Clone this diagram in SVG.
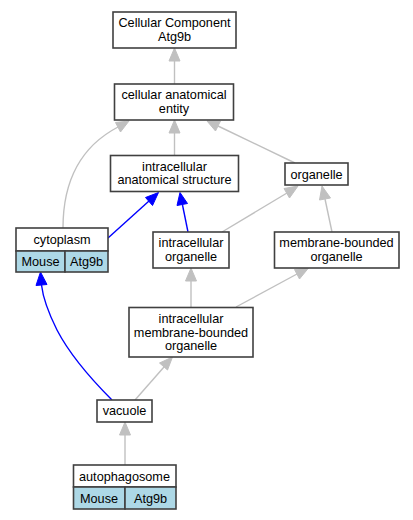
<svg xmlns="http://www.w3.org/2000/svg" width="413" height="520" viewBox="0 0 413 520">
<style>
text{font-family:"Liberation Sans",Arial,sans-serif;font-size:12.7px;fill:#000;text-anchor:middle}
.box{fill:#fff;stroke:#404040;stroke-width:1.6}
.cell{fill:#add8e6;stroke:#404040;stroke-width:1.6}
.g{fill:none;stroke:#c0c0c0;stroke-width:1.4}
.b{fill:none;stroke:#0000ff;stroke-width:1.4}
.ga{fill:#c0c0c0;stroke:#c0c0c0}
.ba{fill:#0000ff;stroke:#0000ff}
</style>
<rect width="413" height="520" fill="#fff"/>
<g id="connectors">
<path class="g" d="M174.5,84 L174.5,61"/>
<polygon class="ga" points="174.5,48 169,61 180,61"/>
<path class="g" d="M174.5,155 L174.5,133"/>
<polygon class="ga" points="174.5,120 169,133 180,133"/>
<path class="g" d="M295,163 L218,126"/>
<polygon class="ga" points="207,121 215.5,131 220.5,121"/>
<path class="g" d="M63,228 C63,185 78,148 118,127"/>
<polygon class="ga" points="129,121 115.5,122.5 120.5,132"/>
<path class="b" d="M188,232 L182.5,205"/>
<polygon class="ba" points="180,192.5 177,205.5 187.5,203.5"/>
<path class="b" d="M108,238 L149,201"/>
<polygon class="ba" points="158.5,192.5 145.5,197.5 152.5,205.5"/>
<path class="g" d="M222,232 L287,193"/>
<polygon class="ga" points="298,186 284,188.5 289.5,198"/>
<path class="g" d="M332,232 L325,199"/>
<polygon class="ga" points="322,186 319.5,200 330.5,198"/>
<path class="g" d="M191,307 L191,281"/>
<polygon class="ga" points="191,268 185.5,281 196.5,281"/>
<path class="g" d="M236,307 L297,274"/>
<polygon class="ga" points="308.5,268 294.5,269.5 299.5,279"/>
<path class="g" d="M135,400 L164,367"/>
<polygon class="ga" points="172.5,357 159.5,363 167.5,370"/>
<path class="b" d="M112,400 C92,380 70,355 57,330 C48,312 43,298 41.5,285"/>
<polygon class="ba" points="40.5,272 36,285.5 47,284.5"/>
<path class="g" d="M125,465 L125,435"/>
<polygon class="ga" points="125,422 119.5,435 130.5,435"/>
</g>
<g id="n_cc">
<rect class="box" x="113" y="12" width="123" height="36"/>
<text x="174.5" y="27">Cellular Component</text>
<text x="174.5" y="40.5">Atg9b</text>
</g>
<g id="n_cae">
<rect class="box" x="114.5" y="84" width="119" height="36"/>
<text x="174" y="99">cellular anatomical</text>
<text x="174" y="112.5">entity</text>
</g>
<g id="n_ias">
<rect class="box" x="110.5" y="155.5" width="128" height="36"/>
<text x="174.5" y="170.5">intracellular</text>
<text x="174.5" y="184">anatomical structure</text>
</g>
<g id="n_organelle">
<rect class="box" x="285" y="163" width="63" height="22"/>
<text x="316.5" y="178.5">organelle</text>
</g>
<g id="n_cytoplasm">
<rect class="box" x="16" y="228" width="92" height="23"/>
<rect class="cell" x="16" y="251" width="49" height="21"/>
<rect class="cell" x="65" y="251" width="43" height="21"/>
<text x="62" y="244">cytoplasm</text>
<text x="40.5" y="266">Mouse</text>
<text x="86.5" y="266">Atg9b</text>
</g>
<g id="n_io">
<rect class="box" x="153" y="232" width="76" height="36"/>
<text x="191" y="247">intracellular</text>
<text x="191" y="261">organelle</text>
</g>
<g id="n_mbo">
<rect class="box" x="274.5" y="232" width="124.5" height="36"/>
<text x="336.5" y="247">membrane-bounded</text>
<text x="336.5" y="261">organelle</text>
</g>
<g id="n_imbo">
<rect class="box" x="129" y="307.5" width="124" height="49.5"/>
<text x="191" y="322.5">intracellular</text>
<text x="191" y="336.5">membrane-bounded</text>
<text x="191" y="350">organelle</text>
</g>
<g id="n_vacuole">
<rect class="box" x="97" y="400" width="55" height="22"/>
<text x="124.5" y="415">vacuole</text>
</g>
<g id="n_autophagosome">
<rect class="box" x="73.5" y="465" width="102.5" height="22"/>
<rect class="cell" x="73.5" y="487" width="51.5" height="22"/>
<rect class="cell" x="125" y="487" width="51" height="22"/>
<text x="124.5" y="480.5">autophagosome</text>
<text x="99" y="502.5">Mouse</text>
<text x="150.5" y="502.5">Atg9b</text>
</g>
</svg>
